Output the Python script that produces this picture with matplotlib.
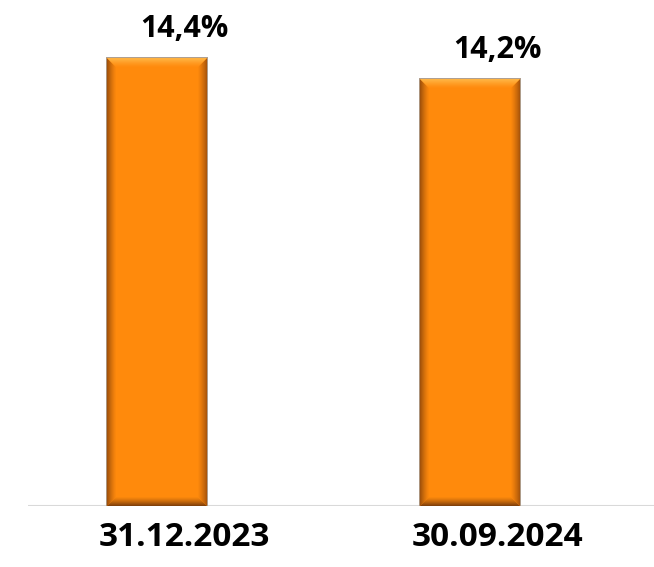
import numpy as np
import matplotlib.pyplot as plt
from matplotlib.patches import Polygon

categories = ['31.12.2023', '30.09.2024']
values = [14.4, 14.2]
labels = ['14,4%', '14,2%']

ymin, ymax = 10.13, 14.86
bar_w = 0.32
shift = -0.088   # bars sit left of the category centre

fig = plt.figure(figsize=(6.54, 5.67), dpi=100)
ax = fig.add_axes([28/654, 61/567, 626/654, (506-10)/567])
ax.set_xlim(-0.5, 1.5)
ax.set_ylim(ymin, ymax)

# pixel sizes in data units
px = (1.5 + 0.5) / 626
py = (ymax - ymin) / 496

main = np.array([255, 138, 12]) / 255
top_c = np.array([255, 190, 80]) / 255
left_c = np.array([150, 75, 10]) / 255
right_c = np.array([170, 85, 10]) / 255
bot_c = np.array([130, 65, 10]) / 255

nb = 9
for i, v in enumerate(values):
    x0 = i + shift - bar_w / 2
    x1 = i + shift + bar_w / 2
    y0, y1 = ymin, v
    ax.add_patch(plt.Rectangle((x0 - px, y0), (x1 - x0) + 2*px, (y1 - y0) + py,
                               facecolor='#b0a090', edgecolor='none', zorder=2))
    ax.bar(i + shift, v - ymin, bottom=ymin, width=bar_w, color=main, zorder=3)
    for k in range(nb):
        t = k / nb
        a, b = k * px, (k + 1) * px
        c, d = k * py, (k + 1) * py
        col = lambda e: e * (1 - t) ** 1.3 + main * (1 - (1 - t) ** 1.3)
        # top
        ax.add_patch(Polygon([(x0 + a, y1 - c), (x1 - a, y1 - c), (x1 - b, y1 - d), (x0 + b, y1 - d)],
                             facecolor=col(top_c), edgecolor='none', zorder=4))
        # bottom
        ax.add_patch(Polygon([(x0 + a, y0 + c), (x1 - a, y0 + c), (x1 - b, y0 + d), (x0 + b, y0 + d)],
                             facecolor=col(bot_c), edgecolor='none', zorder=4))
        # left
        ax.add_patch(Polygon([(x0 + a, y0 + c), (x0 + a, y1 - c), (x0 + b, y1 - d), (x0 + b, y0 + d)],
                             facecolor=col(left_c), edgecolor='none', zorder=4))
        # right
        ax.add_patch(Polygon([(x1 - a, y0 + c), (x1 - a, y1 - c), (x1 - b, y1 - d), (x1 - b, y0 + d)],
                             facecolor=col(right_c), edgecolor='none', zorder=4))
    ax.text(i, v + 21 * py, labels[i], ha='center', va='baseline',
            fontsize=22, fontweight='bold', family='Open Sans', color='black')

ax.axhline(ymin, color='#d9d9d9', lw=1.5, zorder=1)
ax.set_xticks(range(len(categories)))
ax.set_xticklabels(categories, fontsize=24, fontweight='bold', family='Open Sans')
ax.tick_params(length=0, pad=11)
for s in ax.spines.values():
    s.set_visible(False)
ax.set_yticks([])

plt.savefig('out.png', dpi=100)
